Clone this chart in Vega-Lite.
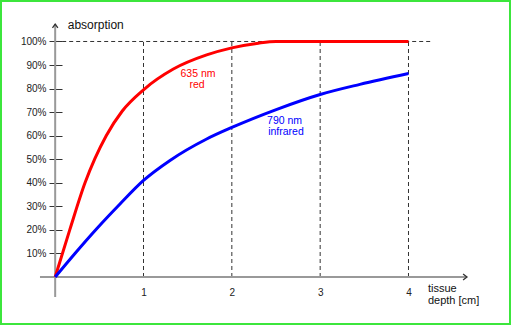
{
  "$schema": "https://vega.github.io/schema/vega-lite/v6.json",
  "width": 511,
  "height": 325,
  "padding": 0,
  "autosize": {"type": "none"},
  "background": "white",
  "view": {"stroke": "#3ce63c", "strokeWidth": 4, "fill": "white"},
  "config": {"font": "Liberation Sans"},
  "datasets": {
    "curves": [
      {"series": "red", "x": 0, "y": 0},
      {"series": "red", "x": 0.165, "y": 20},
      {"series": "red", "x": 0.338, "y": 40},
      {"series": "red", "x": 0.578, "y": 60},
      {"series": "red", "x": 0.76, "y": 70.5},
      {"series": "red", "x": 1, "y": 79.5},
      {"series": "red", "x": 1.338, "y": 88.3},
      {"series": "red", "x": 1.715, "y": 94.3},
      {"series": "red", "x": 2, "y": 97.3},
      {"series": "red", "x": 2.3, "y": 99.3},
      {"series": "red", "x": 2.5, "y": 100},
      {"series": "red", "x": 3, "y": 100},
      {"series": "red", "x": 4, "y": 100},
      {"series": "infrared", "x": 0, "y": 0},
      {"series": "infrared", "x": 0.224, "y": 10},
      {"series": "infrared", "x": 0.47, "y": 20.5},
      {"series": "infrared", "x": 0.734, "y": 31},
      {"series": "infrared", "x": 1, "y": 41},
      {"series": "infrared", "x": 1.3, "y": 49.5},
      {"series": "infrared", "x": 1.71, "y": 58.5},
      {"series": "infrared", "x": 2, "y": 63.5},
      {"series": "infrared", "x": 2.51, "y": 71.2},
      {"series": "infrared", "x": 3, "y": 77.5},
      {"series": "infrared", "x": 3.45, "y": 81.8},
      {"series": "infrared", "x": 4, "y": 86.4}
    ],
    "grid": [
      {"x": 1, "y": 0, "y2": 100},
      {"x": 2, "y": 0, "y2": 100},
      {"x": 3, "y": 0, "y2": 100},
      {"x": 4, "y": 0, "y2": 100}
    ],
    "hgrid": [{"x": 0, "x2": 4.277, "y": 100}],
    "axisLines": [
      {"x": 0, "y": -8.5, "x2": 0, "y2": 107.4},
      {"x": -0.172, "y": 0, "x2": 4.662, "y2": 0}
    ],
    "arrowUp": [{"x": 0, "y": 107.4}],
    "arrowRight": [{"x": 4.662, "y": 0}],
    "curveLabels": [
      {"series": "red", "text": "635 nm", "x": 1.617, "y": 86.2},
      {"series": "red", "text": "red", "x": 1.606, "y": 81.4},
      {"series": "infrared", "text": "790 nm", "x": 2.597, "y": 66.4},
      {"series": "infrared", "text": "infrared", "x": 2.613, "y": 61.6}
    ],
    "titles": [
      {"text": "absorption", "x": 0.142, "y": 105.3, "size": "big"},
      {"text": "tissue", "x": 4.22, "y": -5.0, "size": "small"},
      {"text": "depth [cm]", "x": 4.22, "y": -10.4, "size": "small"}
    ]
  },
  "encoding": {
    "x": {
      "field": "x",
      "type": "quantitative",
      "scale": {"domain": [-0.6246, 5.1604], "nice": false, "zero": false},
      "axis": {
        "orient": "bottom",
        "offset": -48,
        "domain": false,
        "grid": false,
        "ticks": false,
        "tickSize": 0,
        "values": [1, 2, 3, 4],
        "format": "d",
        "labelPadding": 10,
        "labelFontSize": 10,
        "labelColor": "#222",
        "labelFont": "Liberation Sans",
        "title": null
      }
    },
    "y": {
      "field": "y",
      "type": "quantitative",
      "scale": {"domain": [-20.38, 117.62], "nice": false, "zero": false},
      "axis": {
        "orient": "left",
        "offset": -62,
        "domain": false,
        "grid": false,
        "values": [10, 20, 30, 40, 50, 60, 70, 80, 90, 100],
        "labelExpr": "datum.value + '%'",
        "tickSize": 13,
        "tickColor": "#333",
        "tickWidth": 1,
        "labelPadding": 3,
        "labelFontSize": 10,
        "labelColor": "#222",
        "labelFont": "Liberation Sans",
        "title": null
      }
    }
  },
  "layer": [
    {
      "data": {"name": "grid"},
      "mark": {"type": "rule", "color": "#333", "strokeWidth": 1, "strokeDash": [4, 3]},
      "encoding": {"y2": {"field": "y2"}}
    },
    {
      "data": {"name": "hgrid"},
      "mark": {"type": "rule", "color": "#333", "strokeWidth": 1, "strokeDash": [4, 3]},
      "encoding": {"x2": {"field": "x2"}}
    },
    {
      "data": {"name": "axisLines"},
      "mark": {"type": "rule", "color": "#999", "strokeWidth": 2},
      "encoding": {"x2": {"field": "x2"}, "y2": {"field": "y2"}}
    },
    {
      "data": {"name": "arrowUp"},
      "mark": {"type": "point", "shape": "M-0.9,1.3L0,0L0.9,1.3", "size": 36, "filled": false, "stroke": "#333", "strokeWidth": 1.3, "opacity": 1}
    },
    {
      "data": {"name": "arrowRight"},
      "mark": {"type": "point", "shape": "M-1.3,-1L0,0L-1.3,1", "size": 36, "filled": false, "stroke": "#333", "strokeWidth": 1.3, "opacity": 1}
    },
    {
      "data": {"name": "curves"},
      "mark": {"type": "line", "strokeWidth": 3, "interpolate": "monotone"},
      "encoding": {
        "color": {"field": "series", "type": "nominal", "scale": {"domain": ["red", "infrared"], "range": ["#ff0000", "#0000ff"]}, "legend": null},
        "order": {"field": "x", "type": "quantitative"}
      }
    },
    {
      "data": {"name": "curveLabels"},
      "mark": {"type": "text", "fontSize": 10.5, "align": "center", "baseline": "middle"},
      "encoding": {
        "text": {"field": "text"},
        "color": {"field": "series", "type": "nominal", "legend": null}
      }
    },
    {
      "data": {"name": "titles"},
      "transform": [{"filter": "datum.size == 'big'"}],
      "mark": {"type": "text", "fontSize": 12, "align": "left", "baseline": "alphabetic", "color": "#111"},
      "encoding": {"text": {"field": "text"}}
    },
    {
      "data": {"name": "titles"},
      "transform": [{"filter": "datum.size == 'small'"}],
      "mark": {"type": "text", "fontSize": 11, "align": "left", "baseline": "middle", "color": "#111"},
      "encoding": {"text": {"field": "text"}}
    }
  ]
}
